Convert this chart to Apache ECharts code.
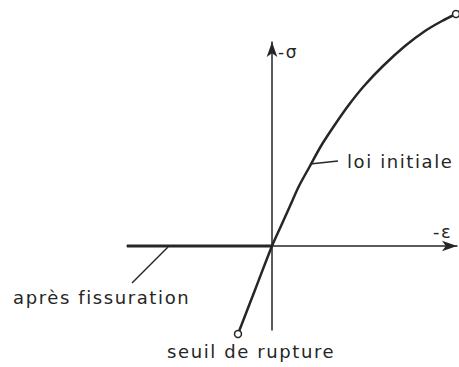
<!DOCTYPE html>
<html><head><meta charset="utf-8">
<script src="https://cdn.jsdelivr.net/npm/echarts@6/dist/echarts.min.js"></script>
<style>html,body{margin:0;padding:0;background:#fff}#c{width:459px;height:367px}#c text{letter-spacing:1.6px}</style>
</head><body><div id="c"></div>
<script>
// Initial law (strain -ε, stress -σ), arbitrary units
const loiInitialeX = [-3.4, -1.7, 0, 0.9, 1.8, 2.7, 3.8, 4.9, 6.2, 7.6, 9.2, 11.1, 13.3, 15.3, 17.0, 18.4];
const loiInitialeY = [-8.8, -4.4, 0, 2.0, 4.0, 6.0, 8.0, 10.0, 12.0, 14.0, 16.0, 18.0, 20.0, 21.5, 22.5, 23.2];
// Post-cracking law: zero stress along the tension side
const apresFissX = [-14.5, 0];
const apresFissY = [0, 0];
// Leader lines
const leaderLoiX = [3.8, 6.6];
const leaderLoiY = [8.2, 8.5];
const leaderApresX = [-10.4, -14.0];
const leaderApresY = [-0.1, -3.7];
const labels = { sigma: '-σ', eps: '-ε', loi: 'loi initiale', apres: 'après fissuration', seuil: 'seuil de rupture' };

const zip = (xs, ys) => xs.map((x, i) => [x, ys[i]]);
const ink = '#262626';
const font = 'DejaVu Sans';
const chart = echarts.init(document.getElementById('c'), null, { renderer: 'svg' });
const txt = (t, x, y, size) => ({ type: 'text', x, y, style: { text: t, fill: ink, font: size + 'px "' + font + '"', verticalAlign: 'middle', textVerticalAlign: 'middle' } });
chart.setOption({
  animation: false,
  grid: { left: 127, right: 2, top: 42, bottom: 37 },
  xAxis: { type: 'value', min: -14.5, max: 18.5, axisLabel: { show: false }, axisTick: { show: false }, splitLine: { show: false },
    axisLine: { onZero: true, lineStyle: { color: ink, width: 1.5 }, symbol: ['none', 'arrow'], symbolSize: [8, 15] } },
  yAxis: { type: 'value', min: -8.4, max: 20.4, axisLabel: { show: false }, axisTick: { show: false }, splitLine: { show: false },
    axisLine: { onZero: true, lineStyle: { color: ink, width: 1.5 }, symbol: ['none', 'arrow'], symbolSize: [8, 15] } },
  series: [
    { type: 'line', data: zip(loiInitialeX, loiInitialeY), smooth: 0.3, clip: false,
      lineStyle: { color: ink, width: 2.5 },
      symbol: (v, p) => (p.dataIndex === 0 || p.dataIndex === loiInitialeX.length - 1) ? 'circle' : 'none',
      symbolSize: 7, showSymbol: true, itemStyle: { color: '#fff', borderColor: ink, borderWidth: 1.5 } },
    { type: 'line', data: zip(apresFissX, apresFissY), symbol: 'none', clip: false, lineStyle: { color: ink, width: 3 } },
    { type: 'line', data: zip(leaderLoiX, leaderLoiY), symbol: 'none', clip: false, lineStyle: { color: ink, width: 1.5 } },
    { type: 'line', data: zip(leaderApresX, leaderApresY), symbol: 'none', clip: false, lineStyle: { color: ink, width: 1.5 } }
  ],
  graphic: [
    txt(labels.sigma, 278, 52, 17),
    txt(labels.eps, 433, 231, 18),
    txt(labels.loi, 347, 161, 18),
    txt(labels.apres, 13, 297, 18),
    txt(labels.seuil, 167, 351, 18)
  ]
});
</script></body></html>
